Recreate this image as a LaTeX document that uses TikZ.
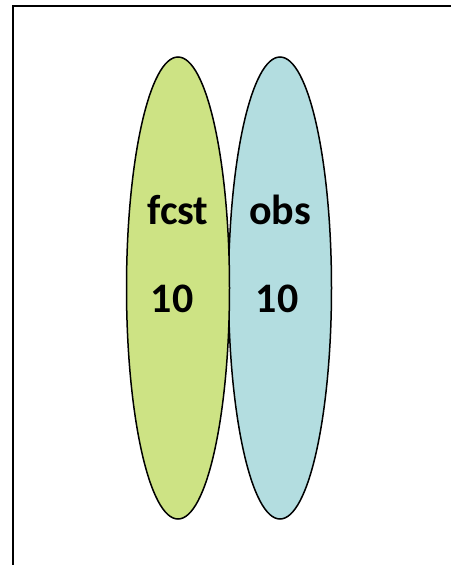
\documentclass[tikz,border=0pt]{standalone}
\usepackage{fontspec}
\setmainfont{Carlito}
\begin{document}
\begin{tikzpicture}[x=1pt,y=-1pt,
  blob/.style={draw=black,line width=1.5pt},
  lbl/.style={font=\fontsize{42}{50}\selectfont\bfseries,anchor=base,inner sep=0pt}]
\useasboundingbox (0,0) rectangle (451,565);
\draw[line width=2.5pt] (13,565) -- (13,6) -- (451,6);
\path[blob,fill={rgb,255:red,179;green,221;blue,224}] (280,288) ellipse [x radius=51.5, y radius=231];
\path[blob,fill={rgb,255:red,205;green,227;blue,132}] (178,288) ellipse [x radius=51.5, y radius=231];
\node[lbl] (fcst) at (178,224) {fcst};
\node[lbl] (obs) at (280,224) {obs};
\node[lbl] (n1) at (172,312) {10};
\node[lbl] (n2) at (277,312) {10};
\end{tikzpicture}
\end{document}
